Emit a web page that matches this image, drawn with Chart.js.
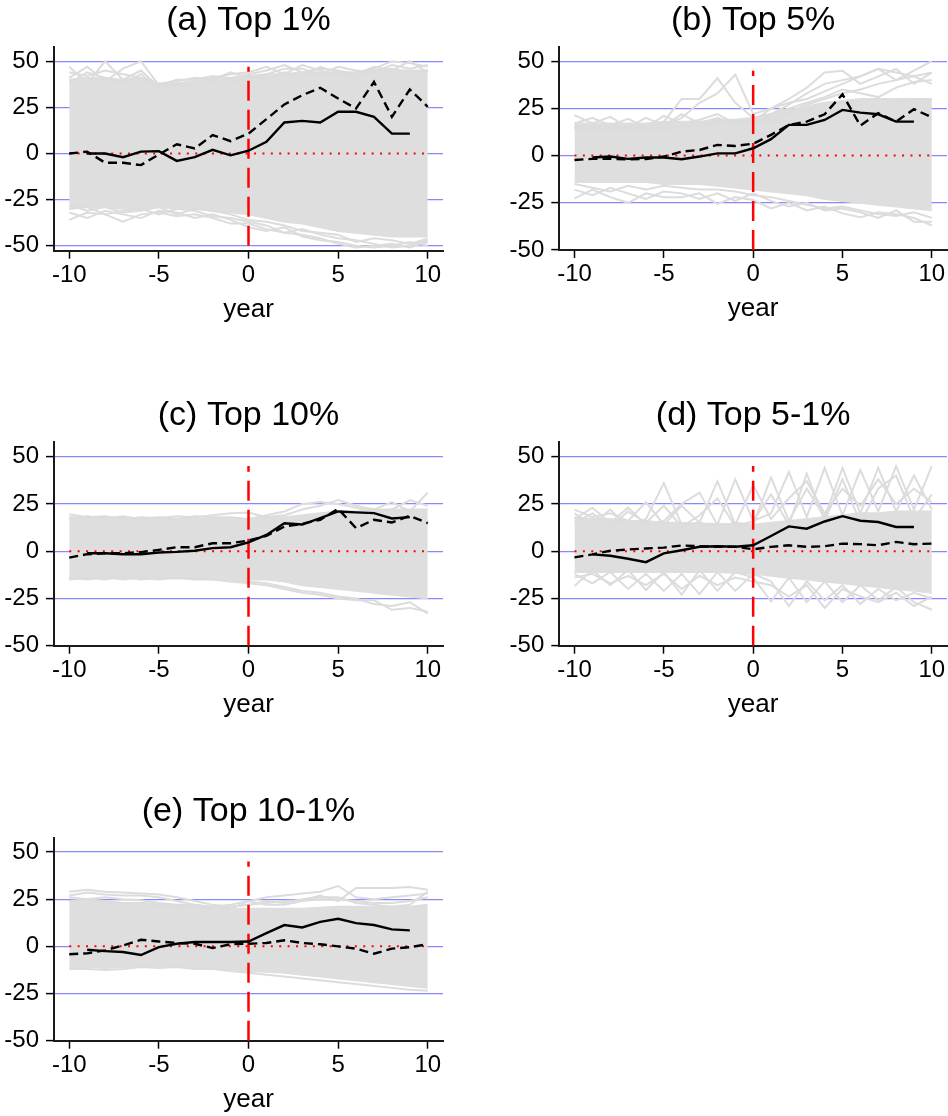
<!DOCTYPE html>
<html>
<head>
<meta charset="utf-8">
<title>Top income shares - event study panels</title>
<script src="https://cdn.jsdelivr.net/npm/chart.js@4.4.1/dist/chart.umd.min.js"></script>
<style>
  html, body { margin: 0; padding: 0; background: #fff; }
  body { width: 948px; height: 1116px; overflow: hidden; position: relative; }
  canvas { position: absolute; }
</style>
</head>
<body>
<canvas id="panelA" width="474" height="330"></canvas>
<canvas id="panelB" width="474" height="330"></canvas>
<canvas id="panelC" width="474" height="330"></canvas>
<canvas id="panelD" width="474" height="330"></canvas>
<canvas id="panelE" width="474" height="330"></canvas>
<script>
// years relative to the event
const years = [-10, -9, -8, -7, -6, -5, -4, -3, -2, -1, 0, 1, 2, 3, 4, 5, 6, 7, 8, 9, 10];
const xTicks = [-10, -5, 0, 5, 10];
const yTicks = [-50, -25, 0, 25, 50];
const zeroLine = [0, 0, 0, 0, 0, 0, 0, 0, 0, 0, 0, 0, 0, 0, 0, 0, 0, 0, 0, 0, 0];
const eventX = [0, 0];
const eventSpanA = [-50, 47];
const eventSpan = [-50, 45];

// (a) Top 1%
const aSolid = [null, 0, 0, -2, 1, 1.3, -4, -2, 2, -1, 1.5, 6.3, 16.8, 17.7, 16.8, 22.6, 22.6, 19.9, 10.8, 10.8, null];
const aDashed = [0, 1, -5, -5, -6.3, -0.5, 5, 2.7, 10, 6.7, 10.8, 18.6, 26.6, 31.6, 35.6, 29.8, 24.4, 38.8, 19.9, 34.7, 25.3];
const aBandHi = [40, 41, 41, 40, 41, 37, 38, 39, 40, 41, 42, 43, 43, 44, 44, 44, 44, 45, 45, 45, 45];
const aBandLo = [-30, -29, -29, -30, -30, -29, -30, -30, -31, -32, -33, -35, -37, -38, -40, -42, -43, -44, -45, -45, -45];
const aGrey = [
  [47, 38, 50, 40, 45, 36, 38, 39, 41, 43, 44, 47, 43, 48, 45, 42, 44, 46, 50, 49, 47],
  [41, 47, 39, 46, 50, 37, 40, 40, 42, 41, 43, 45, 48, 44, 46, 45, 43, 47, 45, 50, 44],
  [44, 42, 45, 43, 41, 38, 39, 41, 40, 44, 41, 43, 46, 46, 43, 47, 45, 44, 48, 46, 48],
  [38, 44, 41, 38, 43, 35, 37, 36, 39, 38, 42, 40, 44, 42, 47, 44, 41, 45, 46, 44, 45],
  [-36, -32, -33, -37, -33, -32, -34, -33, -35, -38, -38, -41, -43, -44, -46, -49, -51, -50, -49, -51, -48],
  [-32, -35, -31, -33, -35, -31, -32, -35, -33, -36, -40, -42, -40, -45, -47, -48, -50, -51, -50, -48, -50],
  [-30, -29, -33, -31, -30, -33, -30, -31, -34, -35, -37, -39, -43, -41, -44, -46, -47, -49, -51, -50, -47],
  [-28, -31, -29, -32, -31, -29, -33, -30, -31, -33, -36, -37, -39, -42, -43, -44, -48, -46, -47, -49, -46]
];

// (b) Top 5%
const bSolid = [null, -1, -0.5, -1.7, -1, -1, -1.9, -0.5, 1.2, 1.2, 3.9, 8.7, 16.3, 16.3, 18.9, 24.2, 22.8, 21.9, 18, 18, null];
const bDashed = [-2.3, -1.7, -1.7, -2, -1.8, -0.5, 2.1, 3, 5.7, 5.1, 6.3, 11, 16.3, 18, 21.9, 32.5, 15.9, 22.5, 18, 24.6, 20.3];
const bBandHi = [17, 17, 17, 17, 17, 18, 18, 18, 19, 19, 20, 22, 24, 26, 28, 29, 30, 30, 30, 30, 30];
const bBandLo = [-14, -14, -14, -14, -14, -15, -15, -15, -16, -17, -18, -19, -20, -21, -23, -24, -25, -26, -27, -28, -29];
const bGrey = [
  [21.5, 17, 20.5, 15, 20, 16, 22, 17, 20, 16, 19, 18, 22, 24, 27, 28, 29, 30, 29, 30, 30],
  [17, 20, 16, 19.5, 15, 21, 17, 19, 22, 17, 18, 20, 23, 27, 30, 33, 35, 38, 40, 42, 44],
  [15, 16, 15, 16, 15, 18, 30, 30, 41, 28, 20, 22, 25, 28, 31, 35, 33, 31, 36, 39, 40],
  [16, 15, 16, 15, 16, 16, 20, 28, 33, 43, 22, 25, 28, 30, 34, 38, 42, 46, 40, 45, 50],
  [14, 15, 14, 15, 14, 15, 16, 17, 18, 18, 18, 25, 30, 36, 44, 45, 38, 42, 46, 38, 44],
  [15, 14, 15, 14, 15, 14, 15, 16, 17, 18, 16, 22, 27, 33, 38, 40, 42, 46, 44, 42, 38],
  [-22.6, -18, -22, -25, -20, -22, -22, -20, -25.6, -22, -23.5, -28, -25, -29, -27, -30.6, -32.7, -30, -31, -33, -37],
  [-18, -21, -17, -20, -23, -19, -20, -23, -20, -24, -20, -24, -27, -25, -29, -28, -30, -33, -29, -35, -35],
  [-15, -17, -19, -16, -18, -16, -17, -18, -18, -19, -21, -22, -24, -26, -28, -27, -29, -31, -32, -30, -33]
];

// (c) Top 10%
const cSolid = [null, -1.1, -1.1, -1.6, -1.6, -0.7, -0.4, 0.2, 1.6, 2.1, 4.6, 8.6, 14.8, 14.1, 17.5, 21, 20.5, 20.1, 17.3, 18, null];
const cDashed = [-3.4, -1.6, -1.1, -1.1, -0.5, 0.7, 2.1, 2.1, 4.2, 4.2, 5.6, 8.1, 13, 14.5, 16.6, 22.4, 12.2, 16.6, 15.2, 18.7, 14.8];
const cBandHi = [18, 18, 18, 17.5, 17.5, 17, 17, 17, 17, 17, 17, 18, 18, 19, 20, 21, 21, 22, 22, 22, 22];
const cBandLo = [-14, -14, -14, -14, -13.5, -13.5, -13.5, -14, -14, -14, -15, -15, -16, -18, -19, -20, -21, -22, -23, -24, -25];
const cGrey = [
  [19.5, 18, 18.5, 17, 18, 17.5, 18.5, 18, 19, 20, 20.5, 18, 19, 22, 24, 27, 24, 22, 26, 21, 31],
  [17, 18.5, 17, 18.5, 17, 18, 17, 18.5, 18, 18, 17, 19, 21, 25, 26, 25, 23, 21, 22, 27, 24],
  [-15, -14, -15, -13.5, -15, -14, -14.5, -14, -15, -15, -16, -17, -19, -21, -22, -24, -25, -28, -29, -27, -33],
  [-14, -15, -13.5, -15, -14, -15, -14, -15, -15, -16, -17, -18, -20, -22, -23, -25, -26, -26, -31, -30, -32]
];

// (d) Top 5-1%
const dSolid = [null, -1.7, -2.4, -4, -5.8, -1.2, 0.5, 2.3, 2.6, 2.3, 3.1, 8, 13.1, 11.9, 15.7, 18.5, 16.1, 15.4, 12.8, 12.8, null];
const dDashed = [-3.3, -1.7, 0.2, 0.9, 1.4, 1.9, 3, 2.6, 2.3, 2.3, 1, 2.3, 3.1, 2.3, 2.6, 4, 3.7, 3.1, 4.9, 3.7, 4];
const dBandHi = [18, 17, 17, 16, 16, 15, 15, 14.5, 14.5, 14, 14, 15, 16, 17, 18, 19, 20, 20, 21, 21, 21];
const dBandLo = [-11, -11, -11, -11, -11, -11, -11, -11, -11, -11.5, -12, -13, -14, -15, -16, -17, -18, -19, -20, -21, -22];
const dGrey = [
  [20, 14, 22, 13, 17, 36, 14, 15, 13, 15, 14, 39, 16, 33, 18, 44, 20, 44, 21, 40, 22],
  [17, 23, 15, 23, 14, 16, 25, 31, 14, 38, 16, 20, 42, 18, 44, 19, 43, 21, 45, 22, 45],
  [22, 18, 20, 16, 26, 14, 24, 15, 37, 14, 35, 17, 28, 37, 20, 33, 24, 38, 25, 33, 26],
  [15, 20, 13, 21, 15, 24, 13, 19, 28, 13, 16, 30, 14, 41, 16, 38, 15, 33, 40, 17, 30],
  [-18.4, -10, -18, -10, -20.5, -11, -23, -10, -21, -11, -14, -26.5, -14, -27, -16, -27, -18, -26, -19, -27, -31],
  [-12, -17, -11, -20, -12, -21, -12, -22.7, -11, -21, -12, -16, -29, -16, -26, -18, -28, -20, -26, -22, -25],
  [-14, -12, -17, -13, -18, -12, -20, -13, -18, -14, -16, -18, -24, -18, -30, -20, -24, -27, -22, -29, -24]
];

// (e) Top 10-1%
const eSolid = [null, -1.8, -2.5, -3, -4.6, -0.4, 1.4, 2.3, 2.3, 2.3, 2.6, 7, 11.3, 10, 13, 14.6, 12.3, 11.3, 9, 8.5, null];
const eDashed = [-4.2, -3.7, -2.1, 0.5, 3.5, 2.6, 1.8, 1.4, -0.9, 1.1, 1.4, 1.8, 3.2, 1.8, 1.1, 0, -1.2, -3.9, -1.2, -0.4, 1.1];
const eBandHi = [24, 24, 23.5, 23, 23, 22, 21.5, 21, 20, 20, 20, 20, 20, 20, 20.5, 21, 21, 21, 21, 21, 22];
const eBandLo = [-11, -11, -11.5, -11, -11, -11, -11, -11, -12, -12, -13, -13.5, -14, -15, -16, -17, -18, -19, -20, -21, -22];
const eGrey = [
  [29, 30, 29, 28.5, 28, 27.5, 26, 24, 22, 21, 22, 24, 23, 25, 26, 26, 23, 22, 21, 22, 29],
  [27, 28.5, 27.5, 27, 27, 26, 24, 22, 20, 20, 24, 26, 27, 28, 29, 32, 26, 25, 26, 27, 28],
  [24, 25, 24, 23, 23, 22, 21, 21, 20, 21, 22, 23, 24, 24.5, 27, 24, 31, 31, 31, 31.5, 30],
  [26, 25, 26, 25, 24.5, 23, 22, 22, 21, 22, 24, 22, 22, 24, 25, 25, 24, 23, 23, 24, 26],
  [-12, -12, -12.5, -12, -11, -11.5, -11, -12, -12, -13, -14, -15, -16, -17, -18, -19, -20, -21, -22, -23, -23.5]
];

const FONT = "'Liberation Sans', Arial, Helvetica, sans-serif";
const colors = {
  grey: 'rgb(220,220,220)',
  band: 'rgb(222,222,222)',
  grid: 'rgb(135,135,255)',
  red: '#ff0000',
  black: '#000000'
};

// chart area boxes in page pixels
const panels = [
  { id: 'panelA', title: '(a) Top 1%', solid: aSolid, dashed: aDashed, hi: aBandHi, lo: aBandLo, grey: aGrey,
    event: eventSpanA, yMin: -52.7, yMax: 57.9, left: 0, top: 0, areaLeft: 54, areaRight: 443, areaBottom: 250.7 },
  { id: 'panelB', title: '(b) Top 5%', solid: bSolid, dashed: bDashed, hi: bBandHi, lo: bBandLo, grey: bGrey,
    event: eventSpan, yMin: -50, yMax: 57.7, left: 474, top: 0, areaLeft: 559.3, areaRight: 947, areaBottom: 250 },
  { id: 'panelC', title: '(c) Top 10%', solid: cSolid, dashed: cDashed, hi: cBandHi, lo: cBandLo, grey: cGrey,
    event: eventSpan, yMin: -50, yMax: 57.9, left: 0, top: 395, areaLeft: 54, areaRight: 443, areaBottom: 645.7 },
  { id: 'panelD', title: '(d) Top 5-1%', solid: dSolid, dashed: dDashed, hi: dBandHi, lo: dBandLo, grey: dGrey,
    event: eventSpan, yMin: -50, yMax: 57.9, left: 474, top: 395, areaLeft: 559.3, areaRight: 947, areaBottom: 645.7 },
  { id: 'panelE', title: '(e) Top 10-1%', solid: eSolid, dashed: eDashed, hi: eBandHi, lo: eBandLo, grey: eGrey,
    event: eventSpan, yMin: -50, yMax: 57.6, left: 0, top: 791, areaLeft: 54, areaRight: 443, areaBottom: 1040.7 }
];

const X_AXIS_H = 74.6;

function pts(arr) {
  return years.map((x, i) => ({ x: x, y: arr[i] }));
}

panels.forEach(p => {
  const canvas = document.getElementById(p.id);
  canvas.style.left = p.left + 'px';
  canvas.style.top = p.top + 'px';
  const W = canvas.width, H = canvas.height;

  const datasets = [
    { data: pts(p.solid), borderColor: colors.black, borderWidth: 2.4, order: 1 },
    { data: pts(p.dashed), borderColor: colors.black, borderWidth: 2.4, borderDash: [9, 5], order: 1 },
    { data: [{ x: eventX[0], y: p.event[0] }, { x: eventX[1], y: p.event[1] }],
      borderColor: colors.red, borderWidth: 2.5, borderDash: [20, 9], order: 2 },
    { data: pts(zeroLine), borderColor: colors.red, borderWidth: 2, borderDash: [2, 6.4], order: 2 }
  ];
  p.grey.forEach(g => {
    datasets.push({ data: pts(g), borderColor: colors.grey, borderWidth: 2, order: 3 });
  });
  datasets.push({ data: pts(p.hi), borderColor: colors.band, backgroundColor: colors.band,
    borderWidth: 2, fill: '+1', order: 4 });
  datasets.push({ data: pts(p.lo), borderColor: colors.band, borderWidth: 2, fill: false, order: 4 });

  new Chart(canvas, {
    type: 'line',
    data: { datasets: datasets },
    options: {
      responsive: false,
      animation: false,
      devicePixelRatio: 1,
      events: [],
      elements: { point: { radius: 0 }, line: { tension: 0 } },
      layout: {
        padding: {
          top: 0,
          left: 0,
          right: p.left + W - p.areaRight,
          bottom: H - (p.areaBottom - p.top) - X_AXIS_H
        }
      },
      plugins: {
        legend: { display: false },
        tooltip: { enabled: false },
        title: {
          display: true,
          text: p.title,
          fullSize: false,
          color: '#000',
          font: { family: FONT, size: 34, weight: 'normal' },
          padding: { top: 0, bottom: 5.9 }
        }
      },
      scales: {
        x: {
          type: 'linear',
          min: -10.85,
          max: 10.85,
          afterBuildTicks: s => { s.ticks = xTicks.map(v => ({ value: v })); },
          afterFit: s => { s.height = X_AXIS_H; },
          grid: { drawOnChartArea: false, drawTicks: true, tickLength: 8, tickColor: '#000', tickWidth: 1.5 },
          border: { display: true, color: '#1a1a1a', width: 2 },
          ticks: { padding: 2, color: '#000', font: { family: FONT, size: 24 },
                   autoSkip: false, maxRotation: 0, callback: v => String(v) },
          title: { display: true, text: 'year', color: '#000', padding: 0,
                   font: { family: FONT, size: 26 } }
        },
        y: {
          type: 'linear',
          min: p.yMin,
          max: p.yMax,
          afterBuildTicks: s => { s.ticks = yTicks.map(v => ({ value: v })); },
          afterFit: s => { s.width = p.areaLeft - p.left; },
          grid: {
            color: c => (c.tick && c.tick.value <= p.yMin) ? 'rgba(0,0,0,0)' : colors.grid,
            lineWidth: 1.2,
            drawTicks: true, tickLength: 8, tickColor: '#000', tickWidth: 1.5
          },
          border: { display: true, color: '#1a1a1a', width: 2 },
          ticks: { padding: 7, color: '#000', font: { family: FONT, size: 24 },
                   callback: v => String(v) }
        }
      }
    }
  });
});
</script>
</body>
</html>
